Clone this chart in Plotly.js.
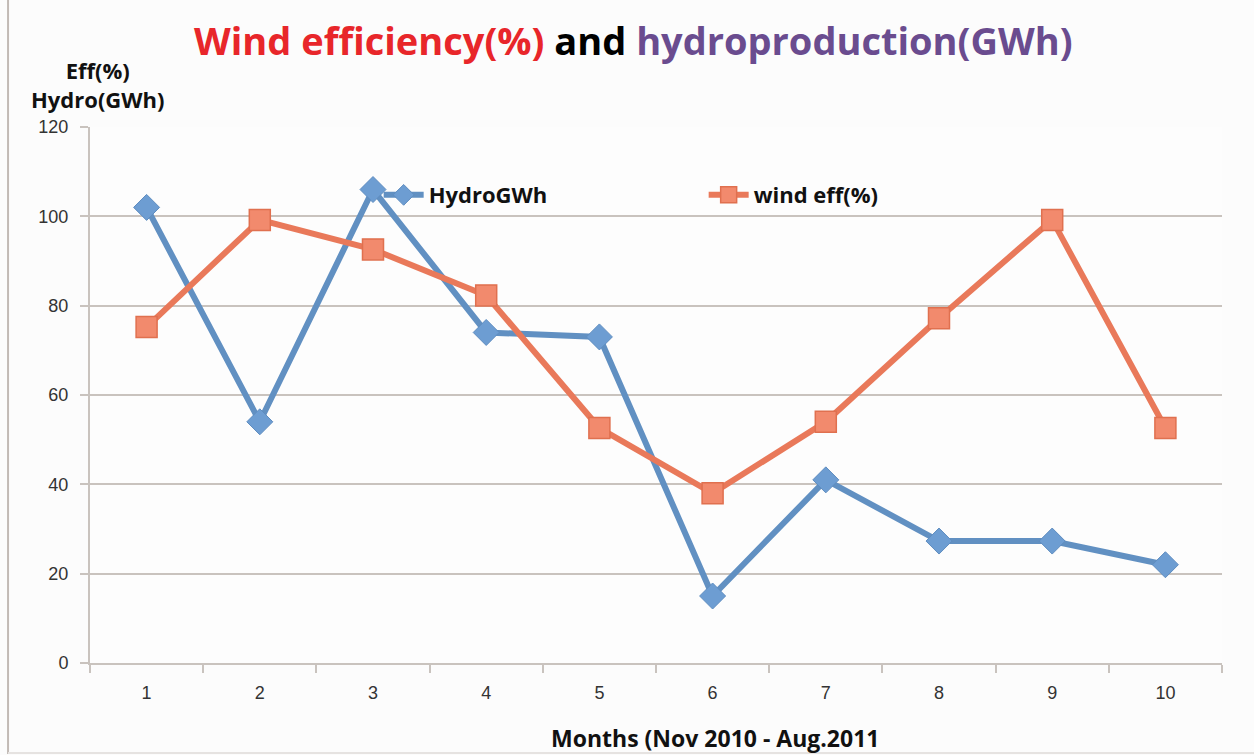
<!DOCTYPE html>
<html>
<head>
<meta charset="utf-8">
<script src="https://cdn.plot.ly/plotly-3.0.1.min.js"></script>
<style>
  html, body { margin: 0; padding: 0; background: #fcfcfc; }
  #chart { width: 1254px; height: 755px; }
</style>
</head>
<body>
<div id="chart"></div>
<script>
var months = ['1', '2', '3', '4', '5', '6', '7', '8', '9', '10'];
var hydroGWh = [102, 54, 106, 74, 73, 15, 41, 27.3, 27.3, 22];
var windEff = [75.2, 99.2, 92.6, 82.3, 52.6, 38, 54, 77.2, 99.2, 52.6];

var hydro = {
  x: months,
  y: hydroGWh,
  name: 'HydroGWh',
  type: 'scatter',
  mode: 'lines+markers',
  line: {color: '#6190c2', width: 6},
  marker: {symbol: 'diamond', size: 20, color: '#6d9dd2', line: {color: '#5f8dc0', width: 1}}
};

var wind = {
  x: months,
  y: windEff,
  name: 'wind eff(%)',
  type: 'scatter',
  mode: 'lines+markers',
  line: {color: '#e9795a', width: 6},
  marker: {symbol: 'square', size: 21, color: '#f28a6d', line: {color: '#e0704f', width: 1.5}}
};

var gridGray = '#c9c3be';

var layout = {
  width: 1254,
  height: 755,
  paper_bgcolor: '#fcfcfc',
  plot_bgcolor: '#fdfdfd',
  margin: {l: 90, r: 32, t: 127, b: 92},
  font: {family: 'Liberation Sans, Arial, sans-serif', color: '#333333'},
  title: {
    text: '<span style="color:#e8262a">Wind efficiency(%)</span> <span style="color:#000000">and</span> <span style="color:#6a4c8f">hydroproduction(GWh)</span>',
    font: {family: 'Open Sans', size: 38, weight: 'bold'},
    x: 0.505,
    xanchor: 'center',
    y: 0.945,
    yanchor: 'middle'
  },
  xaxis: {
    type: 'category',
    range: [-0.5, 9.5],
    tickson: 'boundaries',
    ticks: 'outside',
    ticklen: 8,
    tickcolor: gridGray,
    tickwidth: 2,
    ticklabelstandoff: 12,
    showgrid: false,
    showline: true,
    linecolor: gridGray,
    linewidth: 2,
    tickfont: {size: 18, color: '#333333'}
  },
  yaxis: {
    range: [0, 120],
    dtick: 20,
    ticks: 'outside',
    ticklen: 8,
    tickcolor: gridGray,
    tickwidth: 2,
    ticklabelstandoff: 8,
    showgrid: true,
    gridcolor: gridGray,
    gridwidth: 2,
    showline: true,
    linecolor: gridGray,
    linewidth: 2,
    zeroline: false,
    tickfont: {size: 18, color: '#333333'}
  },
  showlegend: true,
  legend: {
    orientation: 'h',
    x: 0.255,
    xanchor: 'left',
    y: 0.873,
    yanchor: 'middle',
    entrywidth: 270,
    entrywidthmode: 'pixels',
    itemwidth: 40,
    bgcolor: 'rgba(0,0,0,0)',
    font: {family: 'Open Sans', size: 22, color: '#111111', weight: 'bold'}
  },
  annotations: [
    {
      text: 'Eff(%)<br>Hydro(GWh)',
      xref: 'paper', yref: 'paper',
      x: 0.007, y: 1.08,
      xanchor: 'center', yanchor: 'middle',
      showarrow: false,
      align: 'center',
      font: {family: 'Open Sans', size: 22, color: '#111111', weight: 'bold'}
    },
    {
      text: 'Months (Nov 2010 - Aug.2011',
      xref: 'paper', yref: 'paper',
      x: 0.552, y: -0.14,
      xanchor: 'center', yanchor: 'middle',
      showarrow: false,
      font: {family: 'Open Sans', size: 23, color: '#111111', weight: 'bold'}
    }
  ],
  shapes: [
    {type: 'line', xref: 'paper', yref: 'paper', x0: -0.0724, x1: -0.0724, y0: -0.17, y1: 1.3,
     line: {color: '#c2bab5', width: 2}},
    {type: 'line', xref: 'paper', yref: 'paper', x0: -0.0724, x1: 1.03, y0: -0.168, y1: -0.168,
     line: {color: '#e6e3e1', width: 2}}
  ]
};

Plotly.newPlot('chart', [hydro, wind], layout, {displayModeBar: false});
</script>
</body>
</html>
